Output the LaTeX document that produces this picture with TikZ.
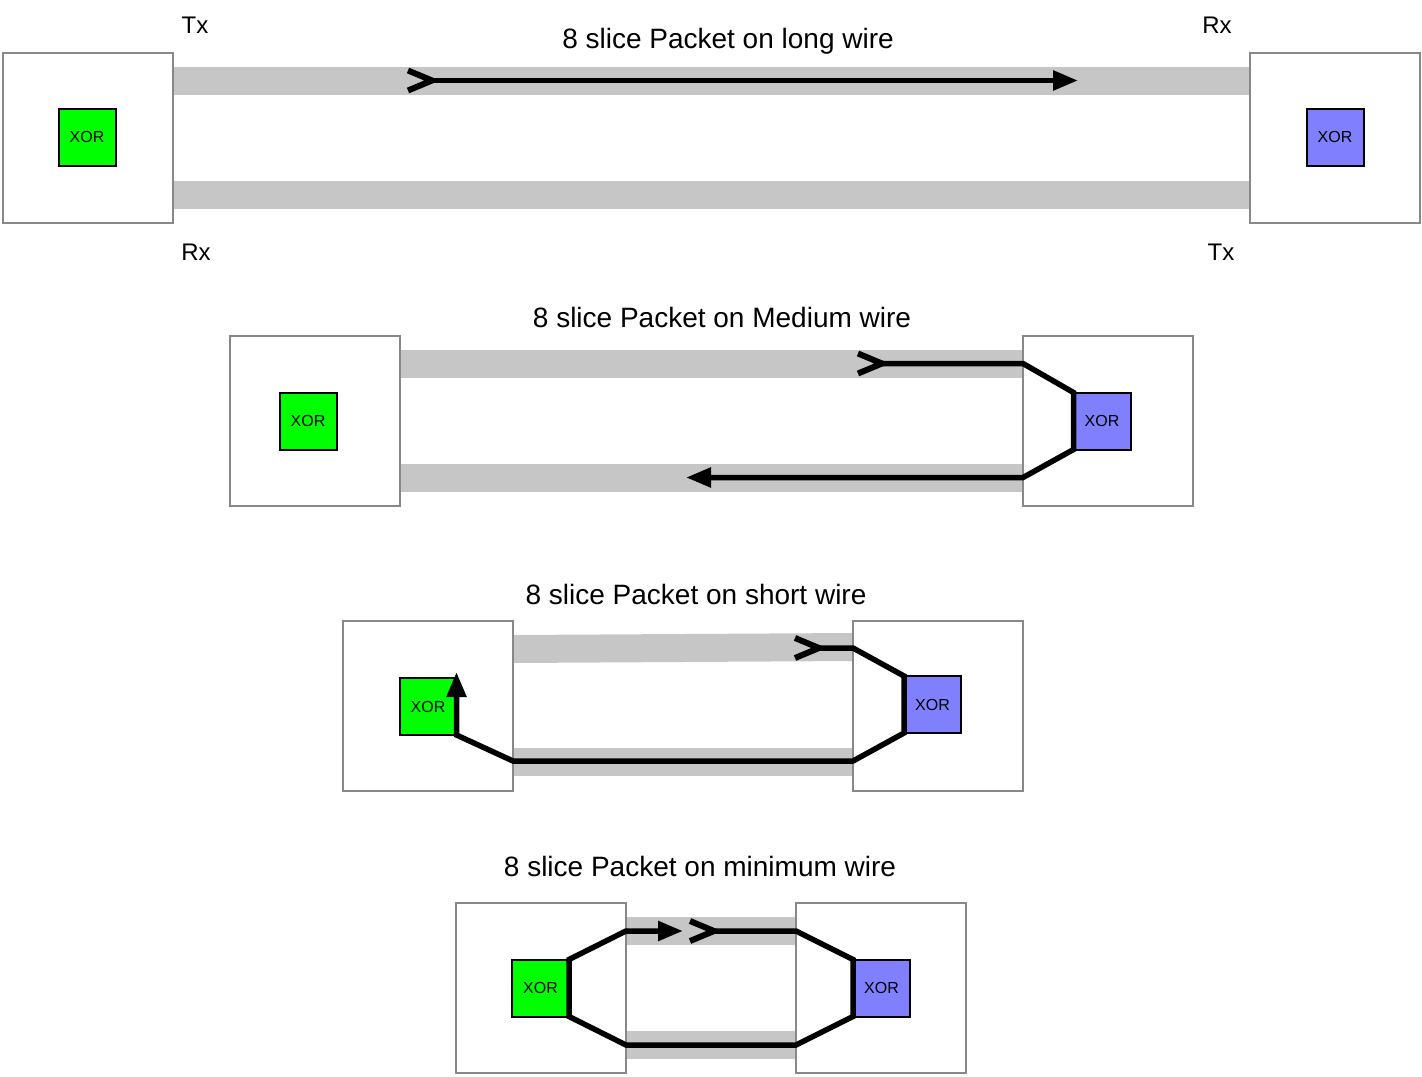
\documentclass[tikz,border=0pt]{standalone}
\usepackage{fontspec}
\setmainfont{Liberation Sans}
\usetikzlibrary{arrows.meta,backgrounds}
\definecolor{wiregray}{HTML}{C6C6C6}
\definecolor{boxgray}{HTML}{888888}
\definecolor{xgreen}{HTML}{00FF00}
\definecolor{xblue}{HTML}{8080FF}
\begin{document}
\begin{tikzpicture}[x=0.5pt,y=-0.5pt,
  sysbox/.style={draw=boxgray,line width=1pt,fill=white,minimum width=85pt,minimum height=85pt,inner sep=0pt,outer sep=0pt},
  xorg/.style={draw=black,line width=1pt,fill=xgreen,minimum size=28.5pt,inner sep=0pt,outer sep=0pt,font=\fontsize{8}{10}\selectfont},
  xorb/.style={xorg,fill=xblue},
  wire/.style={draw=wiregray,line width=14pt},
  pkt/.style={draw=black,line width=2.75pt},
  titletext/.style={font=\fontsize{14}{17}\selectfont},
  porttext/.style={font=\fontsize{12}{14}\selectfont},
  pktarrows/.style={{Straight Barb[reversed,length=12pt,width=10pt,line width=3pt]}-{Triangle[length=12.5pt,width=9.5pt]}}
]
\useasboundingbox (0,0) rectangle (1422,1076);

% ---------- section 1: long wire ----------
\node[titletext] (t1) at (728,41) {8 slice Packet on long wire};
\node[sysbox] (L1) at (88,137.5) {};
\node[sysbox] (R1) at (1335,137.5) {};
\node[xorg] (G1) at (87,137) {XOR};
\node[xorb] (B1) at (1335,137) {XOR};
\node[porttext] (tx1) at (195,25) {Tx};
\node[porttext] (rx1) at (196,252) {Rx};
\node[porttext] (rx2) at (1217,25) {Rx};
\node[porttext] (tx2) at (1221,252) {Tx};
\begin{scope}[on background layer]
  \draw[wire] ([yshift=-14pt]L1.north east) -- ([yshift=-14pt]R1.north west);
  \draw[wire] ([yshift=14pt]L1.south east) -- ([yshift=14pt]R1.south west);
\end{scope}
\coordinate (s1) at ([xshift=-422.5pt,yshift=-14pt]R1.north west);
\coordinate (e1) at ([xshift=-86pt,yshift=-14pt]R1.north west);
\draw[pkt,pktarrows] (s1) -- (e1);

% ---------- section 2: medium wire ----------
\node[titletext] (t2) at (722,317) {8 slice Packet on Medium wire};
\node[sysbox] (L2) at (314.5,420.5) {};
\node[sysbox] (R2) at (1108,420.5) {};
\node[xorg] (G2) at (308,421) {XOR};
\node[xorb] (B2) at (1102,421) {XOR};
\begin{scope}[on background layer]
  \draw[wire] ([yshift=-14pt]L2.north east) -- ([yshift=-14pt]R2.north west);
  \draw[wire] ([yshift=14pt]L2.south east) -- ([yshift=14pt]R2.south west);
\end{scope}
\coordinate (s2) at ([xshift=-84pt,yshift=-14pt]R2.north west);
\coordinate (e2) at ([xshift=-168.5pt,yshift=14pt]R2.south west);
\draw[pkt,pktarrows] (s2) -- ([yshift=-14pt]R2.north west) -- (B2.north west)
  -- (B2.south west) -- ([yshift=14pt]R2.south west) -- (e2);

% ---------- section 3: short wire ----------
\node[titletext] (t3) at (696,594) {8 slice Packet on short wire};
\node[sysbox] (L3) at (428,706) {};
\node[sysbox] (R3) at (938,706) {};
\node[xorg] (G3) at (428,706.5) {XOR};
\node[xorb] (B3) at (932.5,704.5) {XOR};
\begin{scope}[on background layer]
  \draw[wire] ([yshift=-14pt]L3.north east) -- ([yshift=-13pt]R3.north west);
  \draw[wire] ([yshift=14.5pt]L3.south east) -- ([yshift=14.5pt]R3.south west);
\end{scope}
\coordinate (s3) at ([xshift=-30.5pt,yshift=-13.5pt]R3.north west);
\coordinate (e3) at ([yshift=3pt]G3.north east);
\draw[pkt,pktarrows] (s3) -- ([yshift=-13.5pt]R3.north west) -- (B3.north west)
  -- (B3.south west) -- ([yshift=15pt]R3.south west) -- ([yshift=15pt]L3.south east)
  -- (G3.south east) -- (e3);

% ---------- section 4: minimum wire ----------
\node[titletext] (t4) at (700,866) {8 slice Packet on minimum wire};
\node[sysbox] (L4) at (541,988) {};
\node[sysbox] (R4) at (881,988) {};
\node[xorg] (G4) at (540.5,988) {XOR};
\node[xorb] (B4) at (881.5,988) {XOR};
\begin{scope}[on background layer]
  \draw[wire] ([yshift=-14pt]L4.north east) -- ([yshift=-14pt]R4.north west);
  \draw[wire] ([yshift=14pt]L4.south east) -- ([yshift=14pt]R4.south west);
\end{scope}
\coordinate (s4) at ([xshift=30.5pt,yshift=-14pt]L4.north east);
\coordinate (e4) at ([xshift=28.5pt,yshift=-14pt]L4.north east);
\draw[pkt,pktarrows] (s4) -- ([yshift=-14pt]R4.north west) -- (B4.north west)
  -- (B4.south west) -- ([yshift=14pt]R4.south west) -- ([yshift=14pt]L4.south east)
  -- (G4.south east) -- (G4.north east) -- ([yshift=-14pt]L4.north east) -- (e4);
\end{tikzpicture}
\end{document}
